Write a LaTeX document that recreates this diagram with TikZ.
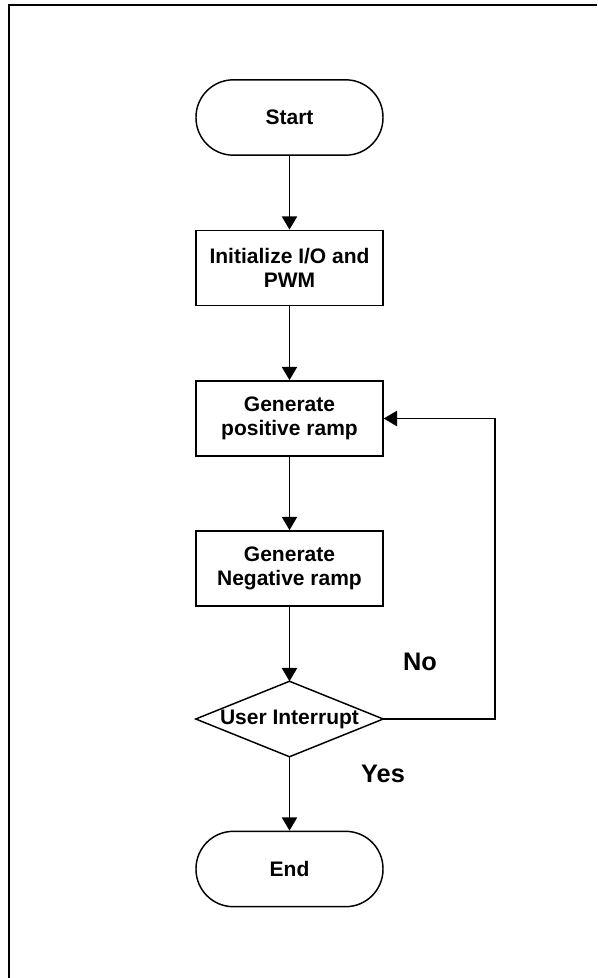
\documentclass[tikz,border=0pt]{standalone}
\usepackage{fontspec}
\setmainfont{Liberation Sans}
\usetikzlibrary{arrows.meta}

\begin{document}
\begin{tikzpicture}[x=0.75pt,y=0.75pt,yscale=-1,xscale=1,
    box/.style={draw, line width=1.1pt, minimum width=140.25pt, minimum height=56.5pt, inner sep=0.75pt, align=center, font=\fontsize{15.75}{18}\selectfont\bfseries},
    term/.style={box, rounded corners=28pt},
    flow/.style={line width=1.1pt, -{Triangle[length=10pt,width=11.5pt]}},
    lbl/.style={inner sep=0.75pt, font=\fontsize{19}{22}\selectfont\bfseries}]
    \useasboundingbox (0,0) rectangle (597,978);

    %Frame
    \draw [line width=1.1pt]   (9,978) -- (9,5) -- (597,5) ;

    % Terminal Node
    \node [term] (start) at (289.5,117.5) {Start};
    % Process Node
    \node [box] (init) at (289.5,268) {Initialize I/O and\\PWM};
    % Process Node
    \node [box] (pos) at (289.5,418.5) {Generate\\positive ramp};
    % Process Node
    \node [box] (neg) at (289.5,568.5) {Generate\\Negative ramp};
    % Decision Node
    \node [box, draw=none, minimum width=139.5pt, minimum height=55.5pt, inner sep=0pt] (dec) at (289.5,719) {User Interrupt};
    \draw [line width=1.1pt]   (dec.north) -- (dec.east) -- (dec.south) -- (dec.west) -- cycle ;
    % Terminal Node
    \node [term] (end) at (289.5,869) {End};

    % Text Node
    \node [lbl] (no) at (420,662) {No};
    % Text Node
    \node [lbl] (yes) at (383,774) {Yes};

    %Connectors
    \draw [flow]   (start) -- (init) ;
    \draw [flow]   (init) -- (pos) ;
    \draw [flow]   (pos) -- (neg) ;
    \draw [flow]   (neg) -- (dec.north) ;
    \draw [flow]   (dec.south) -- (end) ;
    \coordinate (loop) at (495,719);
    \draw [flow]   (dec.east) -- (loop) |- (pos.east) ;

\end{tikzpicture}
\end{document}
